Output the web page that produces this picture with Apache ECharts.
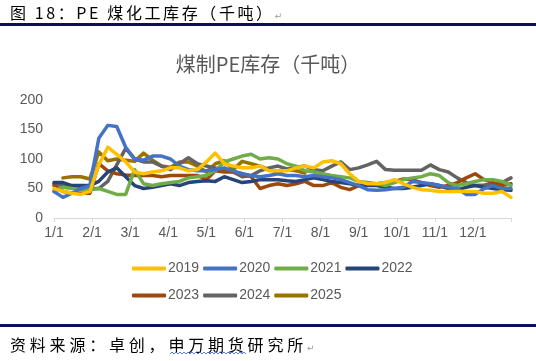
<!DOCTYPE html>
<html><head><meta charset="utf-8">
<script src="https://cdn.jsdelivr.net/npm/echarts@6/dist/echarts.min.js"></script>
<style>
html,body{margin:0;padding:0;background:#fff}
#wrap{position:relative;width:536px;height:361px;overflow:hidden}
#c{position:absolute;left:0;top:0;width:536px;height:361px}
.doc{position:absolute;font-family:"Noto Sans CJK SC";font-size:16px;line-height:16px;color:#000;white-space:nowrap;z-index:2}
.ret{font-family:"DejaVu Sans";font-size:9px;color:#999;letter-spacing:0}
.bar{position:absolute;left:0;width:536px;height:2.5px;background:#0D0D5C;z-index:2}
</style>
</head><body><div id="wrap">
<div id="c"></div>
<div class="doc" style="left:10px;top:4px;letter-spacing:2.6px">图 18：PE 煤化工库存（千吨）<span class="ret">↵</span></div>
<div class="bar" style="top:23px"></div>
<div class="bar" style="top:324px"></div>
<div class="doc" style="left:10px;top:336px;letter-spacing:3.8px">资料来源：卓创，申万期货研究所<span class="ret">↵</span></div>
<svg style="position:absolute;left:170px;top:351px;z-index:2" width="76" height="4"><polyline fill="none" stroke="#3B5BDB" stroke-width="0.8" points="0,3 2,1 4,3 6,1 8,3 10,1 12,3 14,1 16,3 18,1 20,3 22,1 24,3 26,1 28,3 30,1 32,3 34,1 36,3 38,1 40,3 42,1 44,3 46,1 48,3 50,1 52,3 54,1 56,3 58,1 60,3 62,1 64,3 66,1 68,3 70,1 72,3 74,1 76,3"/></svg>
</div>
<script>
const monthLabels = ['1/1','2/1','3/1','4/1','5/1','6/1','7/1','8/1','9/1','10/1','11/1','12/1'];
const years = ['2019','2020','2021','2022','2023','2024','2025'];
const colors = ['#FFC000','#4472C4','#70AD47','#264478','#9E480E','#636363','#997300'];
const s2019 = [50,45,42,40,45,90,120,108,95,78,75,78,80,85,85,80,82,95,110,92,88,85,85,88,80,80,80,85,88,85,95,97,92,75,62,58,58,60,65,58,52,48,47,45,45,45,45,45,42,42,45,35];
const s2020 = [45,35,42,50,55,135,157,155,120,100,98,105,105,100,88,82,80,80,82,85,80,75,72,70,72,75,72,72,70,72,70,68,65,60,55,48,47,48,50,52,62,60,58,55,52,50,40,40,50,55,50,50];
const s2021 = [45,52,50,48,48,50,45,40,40,82,58,55,58,60,62,68,70,72,80,95,100,105,108,100,102,100,92,88,80,78,75,72,70,68,62,60,58,55,60,65,68,70,75,72,60,55,58,62,65,65,62,55];
const s2022 = [60,60,55,55,55,62,78,85,70,55,50,52,55,58,55,60,62,63,62,70,65,60,62,65,65,65,63,62,65,68,65,62,60,58,55,55,55,52,50,50,52,55,58,55,50,48,52,55,52,50,48,47];
const s2023 = [55,45,42,42,42,92,80,75,73,72,72,72,70,72,72,72,72,65,80,78,78,75,70,50,55,58,55,58,62,55,55,60,52,48,55,58,58,60,62,66,65,60,55,52,55,60,68,75,65,60,55,58];
const s2024 = [58,55,52,50,50,50,62,90,118,100,95,95,88,82,92,102,92,88,85,82,78,70,72,80,85,88,83,86,88,82,80,88,95,82,85,90,96,82,81,81,81,81,90,82,78,68,60,55,56,58,60,68];
const s2025 = [null,68,70,70,66,112,97,100,98,96,110,98,88,86,95,95,88,78,92,97,82,96,92,88,82,78,82,80,76];
const seriesData = [s2019,s2020,s2021,s2022,s2023,s2024,s2025];

const chart = echarts.init(document.getElementById('c'));
const series = seriesData.map((arr, k) => ({
  name: years[k], type: 'line', symbol: 'none', smooth: false,
  lineStyle: { width: 3.5, color: colors[k], cap: 'round', join: 'round' },
  itemStyle: { color: colors[k] },
  data: arr.map((v, i) => [i * 12 / 51, v]),
  z: 10 - k
}));
chart.setOption({
  animation: false,
  title: {
    text: '煤制PE库存（千吨）', left: 'center', top: 49,
    textStyle: { fontFamily: 'Noto Sans CJK SC', fontSize: 20, fontWeight: 'normal', color: '#595959' }
  },
  legend: {
    data: years, left: 127, top: 252, width: 300,
    itemWidth: 34, itemHeight: 4, itemGap: 4, icon: 'roundRect',
    textStyle: { fontFamily: 'Liberation Sans', fontSize: 14, color: '#595959', lineHeight: 23, padding: [0, 0, 0, -3] }
  },
  grid: { left: 54, right: 25, top: 100, bottom: 143 },
  xAxis: {
    type: 'value', min: 0, max: 12, interval: 1,
    axisLine: { lineStyle: { color: '#D9D9D9', width: 1 } },
    axisTick: { show: true, length: 4, lineStyle: { color: '#D9D9D9' } },
    splitLine: { show: false },
    axisLabel: {
      fontFamily: 'Liberation Sans', fontSize: 14, color: '#595959', margin: 8,
      formatter: v => (v < 12 ? monthLabels[Math.round(v)] : '')
    }
  },
  yAxis: {
    type: 'value', min: 0, max: 200, interval: 50,
    axisLine: { show: false }, axisTick: { show: false }, splitLine: { show: false },
    axisLabel: { fontFamily: 'Liberation Sans', fontSize: 14, color: '#595959', margin: 11 }
  },
  series
});
</script></body></html>
